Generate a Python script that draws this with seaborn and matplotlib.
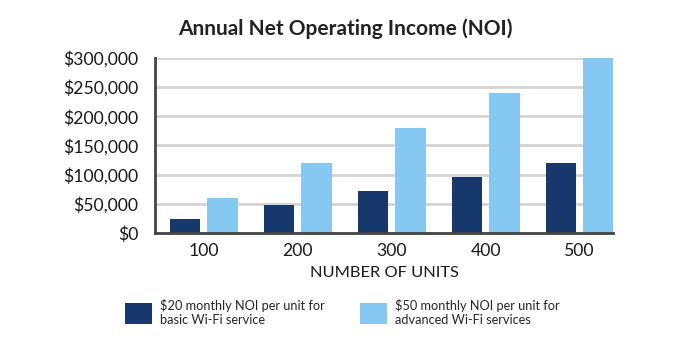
import matplotlib
matplotlib.use("Agg")
import matplotlib.pyplot as plt
import seaborn as sns
import pandas as pd
from matplotlib.patches import Patch
from matplotlib.ticker import FuncFormatter

units = ["100", "200", "300", "400", "500"]
basic = [24000, 48000, 72000, 96000, 120000]
advanced = [60000, 120000, 180000, 240000, 300000]
series_labels = ["$20 monthly NOI per unit for\nbasic Wi-Fi service",
                 "$50 monthly NOI per unit for\nadvanced Wi-Fi services"]
colors = ["#17386b", "#85c8f1"]
yticks = [0, 50000, 100000, 150000, 200000, 250000, 300000]

df = pd.DataFrame({
    "units": units * 2,
    "noi": basic + advanced,
    "series": [series_labels[0]] * len(units) + [series_labels[1]] * len(units),
})

sns.set_style("white")
plt.rcParams['font.family'] = ['Lato', 'DejaVu Sans']

fig = plt.figure(figsize=(6.9, 3.46), dpi=100)
ax = fig.add_axes([0.2246, 0.3266, 0.889 - 0.2246, 0.8324 - 0.3266])

sns.barplot(data=df, x="units", y="noi", hue="series", palette=colors,
            width=0.8, gap=0.19, ax=ax, legend=False, saturation=1,
            edgecolor="none")

ax.set_xlim(-0.52, 4.36)
ax.set_ylim(0, 300000)
ax.set_yticks(yticks)
ax.yaxis.set_major_formatter(FuncFormatter(lambda v, p: "${:,.0f}".format(v)))
ax.grid(axis="y", color="#d4d4d4", linewidth=2)
ax.set_axisbelow(True)
for s in ["top", "right"]:
    ax.spines[s].set_visible(False)
for s in ["left", "bottom"]:
    ax.spines[s].set_color("#444444")
    ax.spines[s].set_linewidth(2)
    ax.spines[s].set_zorder(5)
ax.tick_params(axis="both", length=0, labelsize=12.7, colors="#1a1a1a")
ax.tick_params(axis="y", pad=12)
ax.tick_params(axis="x", pad=7)
ax.set_ylabel("")
ax.set_xlabel("NUMBER OF UNITS", fontsize=11.8, color="#1a1a1a", labelpad=5)

fig.text(0.5, 0.918, "Annual Net Operating Income (NOI)", ha="center",
         va="center", fontsize=15, fontweight="bold", color="#222222")

handles = [Patch(facecolor=c, edgecolor="none") for c in colors]
fig.legend(handles, series_labels, loc="center left", ncol=2,
           bbox_to_anchor=(0.181, 0.097), frameon=False, fontsize=9.2,
           handlelength=2.11, handleheight=2.11, handletextpad=0.63,
           columnspacing=2.8, borderaxespad=0, borderpad=0,
           labelspacing=0.3)

fig.savefig("out.png", dpi=100)
